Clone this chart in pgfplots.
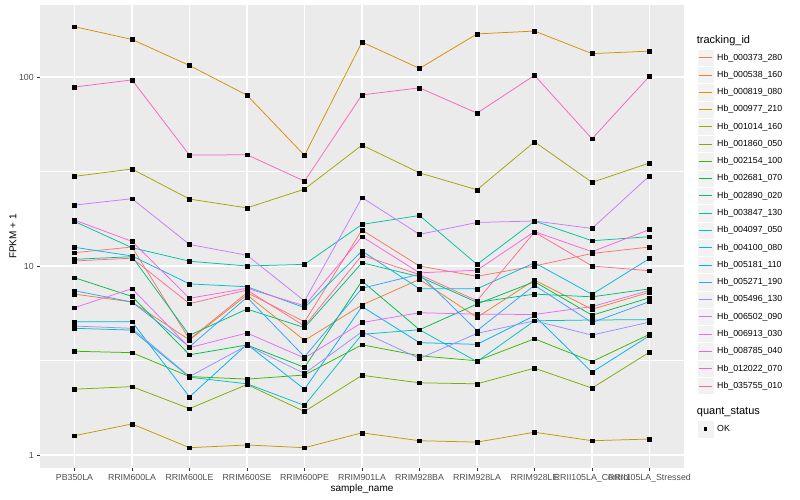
\documentclass[border=0pt]{standalone}
\usepackage{pgfplots}
\pgfplotsset{compat=1.18}
\usepackage{pgfplotstable}
\usepackage{fontspec}
\setmainfont{Liberation Sans}

\definecolor{c1}{HTML}{F8766D}
\definecolor{c2}{HTML}{EA8331}
\definecolor{c3}{HTML}{D89000}
\definecolor{c4}{HTML}{C09B00}
\definecolor{c5}{HTML}{A3A500}
\definecolor{c6}{HTML}{7CAE00}
\definecolor{c7}{HTML}{39B600}
\definecolor{c8}{HTML}{00BB4E}
\definecolor{c9}{HTML}{00BF7D}
\definecolor{c10}{HTML}{00C1A3}
\definecolor{c11}{HTML}{00BFC4}
\definecolor{c12}{HTML}{00BAE0}
\definecolor{c13}{HTML}{00B0F6}
\definecolor{c14}{HTML}{35A2FF}
\definecolor{c15}{HTML}{9590FF}
\definecolor{c16}{HTML}{C77CFF}
\definecolor{c17}{HTML}{E76BF3}
\definecolor{c18}{HTML}{FA62DB}
\definecolor{c19}{HTML}{FF62BC}
\definecolor{c20}{HTML}{FF6C91}
\definecolor{panel}{HTML}{EBEBEB}
\definecolor{keybg}{HTML}{F2F2F2}
\definecolor{grey30}{HTML}{4D4D4D}
\definecolor{grey20}{HTML}{333333}

% FPKM + 1, one row per sample, one column per tracking_id
\pgfplotstableread{
x  s1    s2   s3    s4    s5   s6   s7   s8   s9    s10  s11  s12   s13  s14  s15  s16  s17  s18  s19  s20
0  11.76 7.1  184.6 1.265 29.8 2.23 3.54 8.67 10.85 17.2 4.68 12.56 5.07 7.4  4.81 21.0 6.02 17.5 88.5 10.63
1  12.6  6.45 158   1.46  32.6 2.30 3.48 6.9  11.2  12.5 4.58 11.3  5.07 6.45 4.68 22.7 7.59 13.5 96.5 11.0
2  4.09  4.06 115   1.093 22.6 1.76 2.60 3.39 4.30  10.6 2.58 8.04  2.03 3.74 2.60 13.0 3.70 6.75 38.6 6.32
3  7.22  7.03 80.1  1.13  20.3 2.36 2.52 3.82 5.92  10.0 2.38 7.77  3.85 6.83 3.80 11.4 4.42 7.62 38.8 7.46
4  5.07  4.04 38.5  1.093 25.5 1.70 2.65 2.91 4.72  10.2 1.83 6.02  2.23 3.31 2.70 6.53 3.26 6.16 28.1 4.81
5  15.5  6.22 153   1.31  43.6 2.64 3.83 8.33 10.4  16.6 4.35 12.0  6.10 7.62 4.49 23.0 5.02 14.3 80.4 11.4
6  10.0  8.5  111   1.19  31.1 2.41 3.35 4.60 8.78  18.5 4.60 7.57  3.93 9.05 3.24 14.7 5.66 9.2  87.6 9.0
7  8.82  5.35 169   1.17  25.3 2.38 3.15 6.29 6.42  10.2 3.12 7.57  3.85 4.55 4.40 17.0 5.56 9.5  64.4 6.55
8  10.0  8.43 175   1.32  45.4 2.88 4.12 8.26 7.1   17.3 5.13 10.4  5.46 7.91 5.13 17.3 5.54 15.2 102  15.1
9  11.65 5.9  133   1.19  27.7 2.26 3.12 5.49 6.87  13.6 5.18 7.08  2.74 5.02 4.31 15.8 6.10 11.9 47.1 10.0
10 12.6  7.26 137   1.215 35.1 3.50 4.35 6.79 7.57  14.3 5.2  10.95 4.28 6.48 5.05 30.0 7.42 15.6 101  9.44
}\fpkm

\pgfplotsset{
  gglegend/.style={
    legend cell align=left,
    legend style={draw=none, fill=none, inner sep=0pt, outer sep=0pt,
      row sep=-0.5pt, column sep=2.7pt,
      font=\fontsize{8.8}{10}\selectfont,
      nodes={inner sep=0pt, outer sep=0pt, draw=none}},
  },
}

\begin{document}
\begin{tikzpicture}
\useasboundingbox (0,0) rectangle (800pt,500pt);
\begin{axis}[
  at={(40pt,32pt)}, anchor=south west,
  scale only axis, width=644pt, height=463pt,
  ymode=log,
  xmin=-0.6, xmax=10.6,
  ymin=0.8536, ymax=240.4,
  axis background/.style={fill=panel},
  axis line style={draw=none},
  xtick={0,...,10},
  xticklabels={PB350LA,RRIM600LA,RRIM600LE,RRIM600SE,RRIM600PE,RRIM901LA,RRIM928BA,RRIM928LA,RRIM928LE,RRII105LA\_Control,RRII105LA\_Stressed},
  ytick={1,10,100},
  yticklabels={1,10,100},
  minor ytick={3.1623,31.623},
  /pgf/number format/assume math mode=true,
  xmajorgrids, ymajorgrids, yminorgrids,
  major grid style={white, line width=1.07pt},
  minor grid style={white, line width=0.53pt},
  tick align=outside, tick pos=left,
  major tick length=2.75pt, minor tick length=0pt,
  tick style={grey20, line width=0.53pt},
  ticklabel style={font=\fontsize{8.8}{10}\selectfont, text=grey30},
  xlabel={sample\_name}, ylabel={FPKM + 1},
  label style={font=\fontsize{11}{13}\selectfont},
  every axis x label/.style={at={(axis description cs:0.5,0)}, anchor=center, yshift=-21pt},
  every axis y label/.style={at={(axis description cs:0,0.5)}, anchor=center, xshift=-27pt, rotate=90},
  gglegend,
  legend style={at={(1.0197,0.9056)}, anchor=north west},
  legend image code/.code={
    \fill[keybg, draw=white, line width=0.5pt] (0pt,-8.64pt) rectangle (17.28pt,8.64pt);
    \draw[#1, mark=none] (1.73pt,0pt) -- (15.55pt,0pt);
  },
]
\pgfplotsinvokeforeach{1,...,20}{
  \addplot[c#1, line width=0.75pt, mark=none] table[x=x, y=s#1]{\fpkm};
}
\pgfplotsinvokeforeach{1,...,20}{
  \addplot[forget plot, only marks, mark=square*, mark size=1.9pt, black] table[x=x, y=s#1]{\fpkm};
}
\legend{Hb\_000373\_280, Hb\_000538\_160, Hb\_000819\_080, Hb\_000977\_210,
  Hb\_001014\_160, Hb\_001860\_050, Hb\_002154\_100, Hb\_002681\_070,
  Hb\_002890\_020, Hb\_003847\_130, Hb\_004097\_050, Hb\_004100\_080,
  Hb\_005181\_110, Hb\_005271\_190, Hb\_005496\_130, Hb\_006502\_090,
  Hb\_006913\_030, Hb\_008785\_040, Hb\_012022\_070, Hb\_035755\_010}
\end{axis}
\begin{axis}[
  at={(40pt,32pt)}, anchor=south west,
  scale only axis, width=644pt, height=463pt,
  hide axis, xmin=0, xmax=1, ymin=0, ymax=1,
  gglegend,
  legend style={at={(1.0197,0.1029)}, anchor=north west},
  legend image code/.code={
    \fill[keybg, draw=white, line width=0.5pt] (0pt,-8.64pt) rectangle (17.28pt,8.64pt);
    \fill[black, draw=none] (6.74pt,-1.9pt) rectangle (10.54pt,1.9pt);
  },
]
\addlegendimage{black, mark=square*, line width=0pt}
\addlegendentry{OK}
\end{axis}
\node[anchor=west, font=\fontsize{11}{13}\selectfont, inner sep=0pt] at (696.7pt,459.3pt) {tracking\_id};
\node[anchor=west, font=\fontsize{11}{13}\selectfont, inner sep=0pt] at (696.7pt,87.7pt) {quant\_status};
\end{tikzpicture}
\end{document}
